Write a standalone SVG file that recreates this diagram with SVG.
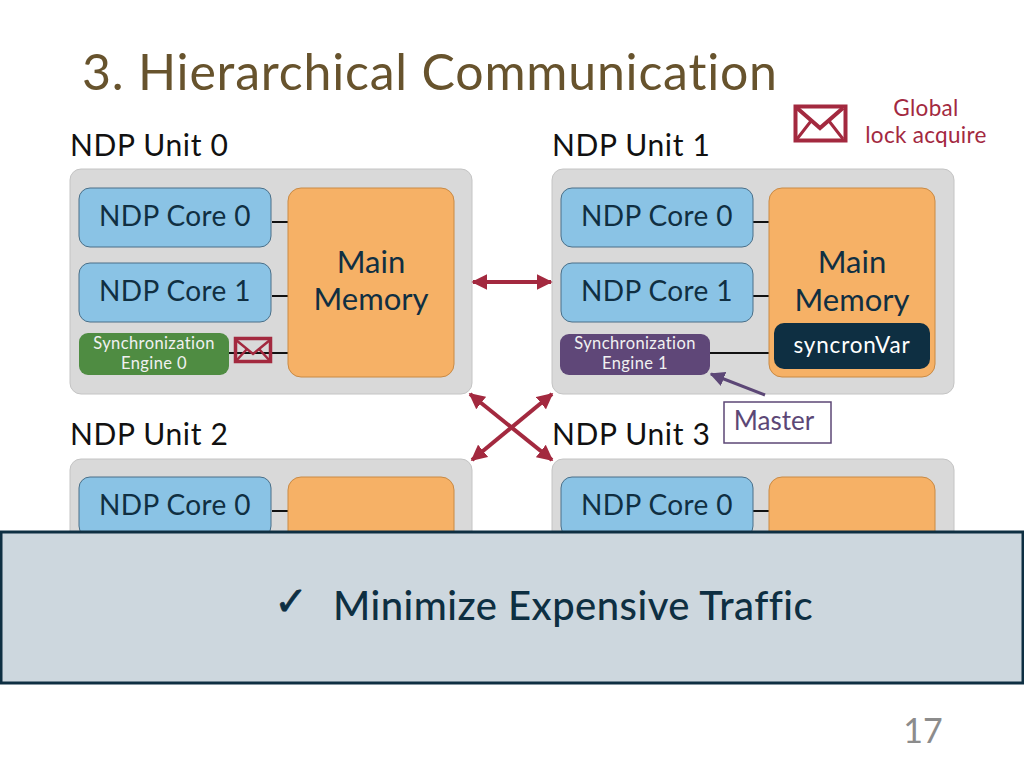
<svg xmlns="http://www.w3.org/2000/svg" width="1024" height="768" viewBox="0 0 1024 768">
<style>
text{font-family:"Lato","Noto Sans",sans-serif;text-anchor:middle;font-variant-ligatures:none}
.unit{fill:#d9d9d9;stroke:#c4c4c4;stroke-width:1}
.core{fill:#8ac3e5;stroke:#4a6f88;stroke-width:1}
.mem{fill:#f6b166;stroke:#c98a45;stroke-width:1}
.t24{font-size:28px;fill:#102f42;letter-spacing:.4px}
.lab{font-size:30px;fill:#111;text-anchor:start;letter-spacing:.65px}
.mt{font-size:31px;fill:#102f42}
.se{font-size:16.500px;fill:#f1f1f1;letter-spacing:.4px}
.leg{font-size:22.500px;fill:#a3293f;letter-spacing:.3px}
.wire{stroke:#111;stroke-width:2;fill:none}
.red{stroke:#a3293f;stroke-width:4;fill:none}
.env{fill:none;stroke:#a3293f}
</style>
<defs>
<marker id="ra" viewBox="0 0 10 10" refX="9" refY="5" markerWidth="4" markerHeight="4" orient="auto-start-reverse"><path d="M0 0L10 5L0 10Z" fill="#a3293f"/></marker>
<marker id="pa" viewBox="0 0 10 10" refX="9" refY="5" markerWidth="5" markerHeight="5" orient="auto"><path d="M0 0L10 5L0 10Z" fill="#5c4776"/></marker>
</defs>
<g id="title"><text x="82" y="90" style="text-anchor:start;font-size:50px;fill:#67532d;letter-spacing:.8px">3. Hierarchical Communication</text></g>
<g id="legend">
<rect x="795.500" y="106.500" width="50" height="34" class="env" stroke-width="4"/>
<path d="M797 108L820 128L843 108" class="env" stroke-width="4"/>
<path d="M797 139L811 121M843 139L829 121" class="env" stroke-width="3"/>
<text x="926" y="116" class="leg">Global</text>
<text x="926" y="143" class="leg">lock acquire</text>
</g>
<g id="labels">
<text x="70" y="156" class="lab">NDP Unit 0</text>
<text x="552" y="156" class="lab">NDP Unit 1</text>
<text x="70" y="445" class="lab">NDP Unit 2</text>
<text x="552" y="445" class="lab">NDP Unit 3</text>
</g>
<g id="backgrounds">
<rect x="70" y="169" width="402" height="225" rx="11" class="unit"/>
<rect x="552" y="169" width="402" height="225" rx="11" class="unit"/>
<rect x="70" y="459" width="402" height="90" rx="11" class="unit"/>
<rect x="552" y="459" width="402" height="90" rx="11" class="unit"/>
</g>
<g id="connectors">
<path class="wire" d="M272 222H288M272 296H288M229 353H288M753 222H769M753 296H769M710 353H774M272 511H288M753 511H769"/>
<path class="red" d="M473 282H551" marker-start="url(#ra)" marker-end="url(#ra)"/>
<path class="red" d="M470 394L552 460" marker-start="url(#ra)" marker-end="url(#ra)"/>
<path class="red" d="M552 394L472 460" marker-start="url(#ra)" marker-end="url(#ra)"/>
<path d="M765 395L711 374" stroke="#5c4776" stroke-width="3" fill="none" marker-end="url(#pa)"/>
</g>
<g id="unit0">
<rect x="79" y="188" width="192" height="59" rx="11" class="core"/><text x="175" y="226" class="t24">NDP Core 0</text>
<rect x="79" y="263" width="192" height="59" rx="11" class="core"/><text x="175" y="301" class="t24">NDP Core 1</text>
<rect x="288" y="188" width="166" height="189" rx="13" class="mem"/>
<text x="371" y="273" class="mt">Main</text><text x="371" y="310" class="mt">Memory</text>
<rect x="79" y="333" width="150" height="42" rx="9" fill="#4f8c42"/>
<text x="154" y="349" class="se">Synchronization</text><text x="154" y="369" class="se">Engine 0</text>
<g id="msg0"><rect x="235.500" y="338.500" width="35" height="23" class="env" stroke-width="3.500"/><path d="M236 340L253 354L270 340M236 361L247 349M270 361L259 349" class="env" stroke-width="2.500"/></g>
</g>
<g id="unit1">
<rect x="561" y="188" width="192" height="59" rx="11" class="core"/><text x="657" y="226" class="t24">NDP Core 0</text>
<rect x="561" y="263" width="192" height="59" rx="11" class="core"/><text x="657" y="301" class="t24">NDP Core 1</text>
<rect x="769" y="188" width="166" height="189" rx="13" class="mem"/>
<text x="852" y="273" class="mt">Main</text><text x="852" y="311" class="mt">Memory</text>
<rect x="560" y="334" width="150" height="41" rx="9" fill="#5f4778"/>
<text x="635" y="349" class="se">Synchronization</text><text x="635" y="369" class="se">Engine 1</text>
<rect x="774" y="323" width="156" height="46" rx="10" fill="#0e2f42"/>
<text x="852" y="353" style="font-size:22.500px;fill:#fff;letter-spacing:.8px">syncronVar</text>
</g>
<g id="master"><rect x="724" y="402" width="107" height="41" fill="#fff" stroke="#5c4776" stroke-width="1.500"/><text x="774" y="430" style="font-size:26px;fill:#5c4776">Master</text></g>
<g id="unit2">
<rect x="79" y="477" width="192" height="60" rx="11" class="core"/><text x="175" y="515" class="t24">NDP Core 0</text>
<rect x="288" y="477" width="166" height="70" rx="13" class="mem"/>
</g>
<g id="unit3">
<rect x="561" y="477" width="192" height="60" rx="11" class="core"/><text x="657" y="515" class="t24">NDP Core 0</text>
<rect x="769" y="477" width="166" height="70" rx="13" class="mem"/>
</g>
<g id="banner">
<rect x="1" y="532" width="1022" height="151" fill="#cdd7de" stroke="#0e2f42" stroke-width="3"/>
<text x="291" y="615" style="font-family:'DejaVu Sans',sans-serif;font-size:40px;fill:#0e2f42;stroke:#0e2f42;stroke-width:.8px">✓</text>
<text x="333" y="620" style="text-anchor:start;font-size:40px;font-weight:500;fill:#0e2f42;letter-spacing:.47px">Minimize Expensive Traffic</text>
</g>
<g id="page"><text x="923" y="743" style="font-size:34px;fill:#8c8c8c">17</text></g>
</svg>
